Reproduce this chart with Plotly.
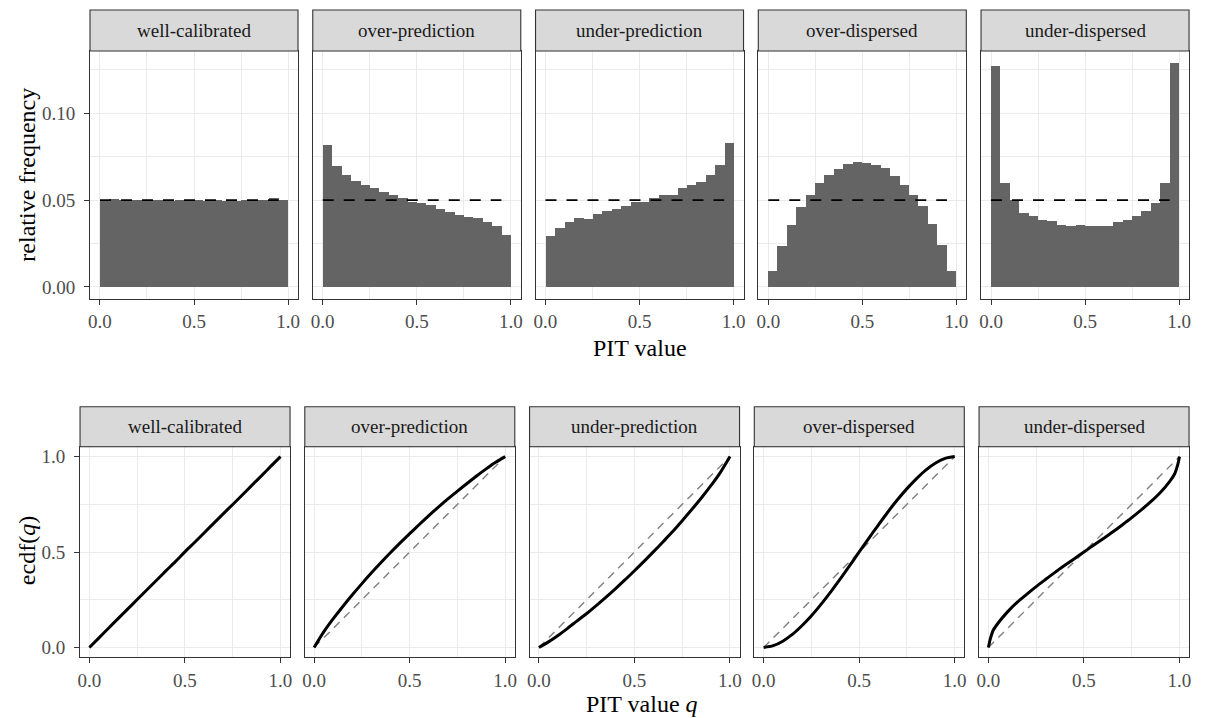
import plotly.graph_objects as go

# ---------------- data ----------------
panels = ["well-calibrated", "over-prediction", "under-prediction",
          "over-dispersed", "under-dispersed"]

bin_centers = [0.025, 0.075, 0.125, 0.175, 0.225, 0.275, 0.325, 0.375, 0.425, 0.475,
               0.525, 0.575, 0.625, 0.675, 0.725, 0.775, 0.825, 0.875, 0.925, 0.975]
bin_width = 0.05
expected_freq = 0.05
expected_x = [0.0, 0.95]

hist_well = [0.0502, 0.0505, 0.0503, 0.0499, 0.0501, 0.0498, 0.0500, 0.0497, 0.0499, 0.0501,
             0.0498, 0.0496, 0.0499, 0.0497, 0.0496, 0.0499, 0.0500, 0.0502, 0.0510, 0.0503]
hist_over_pred = [0.0817, 0.0698, 0.0646, 0.0612, 0.0589, 0.0567, 0.0544, 0.0527, 0.0510, 0.0487,
                  0.0481, 0.0470, 0.0447, 0.0430, 0.0413, 0.0401, 0.0395, 0.0373, 0.0350, 0.0298]
hist_under_pred = [0.0293, 0.0338, 0.0373, 0.0395, 0.0390, 0.0418, 0.0435, 0.0447, 0.0464, 0.0487,
                   0.0492, 0.0510, 0.0527, 0.0532, 0.0572, 0.0589, 0.0606, 0.0646, 0.0703, 0.0829]
hist_over_disp = [0.0093, 0.0236, 0.0356, 0.0458, 0.0527, 0.0601, 0.0646, 0.0681, 0.0709, 0.0721,
                  0.0715, 0.0703, 0.0686, 0.0641, 0.0589, 0.0527, 0.0464, 0.0361, 0.0241, 0.0093]
hist_under_disp = [0.1274, 0.0601, 0.0500, 0.0424, 0.0407, 0.0384, 0.0378, 0.0356, 0.0350, 0.0356,
                   0.0350, 0.0350, 0.0350, 0.0373, 0.0384, 0.0407, 0.0435, 0.0481, 0.0601, 0.1291]

ecdf_q = [0.00, 0.05, 0.10, 0.15, 0.20, 0.25, 0.30, 0.35, 0.40, 0.45, 0.50,
          0.55, 0.60, 0.65, 0.70, 0.75, 0.80, 0.85, 0.90, 0.95, 1.00]
ecdf_well = [0.0, 0.050, 0.101, 0.151, 0.201, 0.251, 0.301, 0.351, 0.401, 0.450, 0.501,
             0.550, 0.600, 0.650, 0.700, 0.749, 0.799, 0.849, 0.899, 0.950, 1.0]
ecdf_over_pred = [0.0, 0.0813, 0.1507, 0.2149, 0.2758, 0.3344, 0.3908, 0.4448, 0.4973, 0.5480, 0.5964,
                  0.6443, 0.6910, 0.7354, 0.7782, 0.8193, 0.8592, 0.8985, 0.9356, 0.9704, 1.0]
ecdf_under_pred = [0.0, 0.0292, 0.0628, 0.0999, 0.1393, 0.1781, 0.2197, 0.2630, 0.3075, 0.3537, 0.4021,
                   0.4511, 0.5019, 0.5543, 0.6073, 0.6642, 0.7229, 0.7832, 0.8475, 0.9175, 1.0]
ecdf_over_disp = [0.0, 0.0093, 0.0327, 0.0682, 0.1138, 0.1662, 0.2260, 0.2903, 0.3581, 0.4286, 0.5004,
                  0.5716, 0.6415, 0.7098, 0.7736, 0.8322, 0.8847, 0.9308, 0.9667, 0.9907, 1.0]
ecdf_q_ud = [0.00, 0.01, 0.025, 0.05, 0.10, 0.15, 0.20, 0.25, 0.30, 0.35, 0.40, 0.45, 0.50,
             0.55, 0.60, 0.65, 0.70, 0.75, 0.80, 0.85, 0.90, 0.95, 0.975, 0.99, 1.00]
ecdf_under_disp = [0.0, 0.045, 0.090, 0.1267, 0.1865, 0.2363, 0.2785, 0.3189, 0.3571, 0.3947, 0.4302,
                   0.4650, 0.5004, 0.5352, 0.5700, 0.6049, 0.6420, 0.6802, 0.7207, 0.7639, 0.8118,
                   0.8716, 0.910, 0.955, 1.0]

hist_data = [hist_well, hist_over_pred, hist_under_pred, hist_over_disp, hist_under_disp]
ecdf_x = [ecdf_q, ecdf_q, ecdf_q, ecdf_q, ecdf_q_ud]
ecdf_y = [ecdf_well, ecdf_over_pred, ecdf_under_pred, ecdf_over_disp, ecdf_under_disp]
diag = [0.0, 1.0]

x_ticks = [0.0, 0.5, 1.0]
top_y_ticks = [0.0, 0.05, 0.10]
bot_y_ticks = [0.0, 0.5, 1.0]

# ---------------- layout geometry ----------------
W, H = 1206, 718
FONT = "Liberation Serif"
BORDER = "#333333"
GRID = "#EBEBEB"

top_lefts = [88.3 + i * 223.5 for i in range(5)]
top_w = 208.7
top_strip = (10.0, 51.0)
top_plot = (51.0, 299.0)

bot_lefts = [78.3 + i * 225.5 for i in range(5)]
bot_w = 210.7
bot_strip = (407.3, 447.3)
bot_plot = (447.3, 658.3)


def xdom(left, width):
    return [left / W, (left + width) / W]


def ydom(top, bottom):
    return [1 - bottom / H, 1 - top / H]


def axis_common(minor_dtick):
    return dict(
        showline=True, linecolor=BORDER, linewidth=1.1, mirror=True,
        ticks="outside", ticklen=5, tickwidth=1.1, tickcolor=BORDER,
        showgrid=True, gridcolor=GRID, gridwidth=1.1, zeroline=False,
        tickfont=dict(family=FONT, size=19, color="#4D4D4D"),
        minor=dict(dtick=minor_dtick, tick0=0, showgrid=True, gridcolor=GRID,
                   gridwidth=0.55, ticks=""),
        fixedrange=True,
    )


fig = go.Figure()
layout = dict(width=W, height=H, margin=dict(l=0, r=0, t=0, b=0),
              paper_bgcolor="white", plot_bgcolor="white", showlegend=False,
              shapes=[], annotations=[], bargap=0)

for i in range(5):
    # ---- top row: histograms ----
    n = i + 1
    xa, ya = f"x{n}", f"y{n}"
    fig.add_trace(go.Bar(x=bin_centers, y=hist_data[i], width=bin_width,
                         marker=dict(color="#646464", line=dict(width=0)),
                         xaxis=xa, yaxis=ya, hoverinfo="skip"))
    fig.add_trace(go.Scatter(x=expected_x, y=[expected_freq, expected_freq], mode="lines",
                             line=dict(color="black", width=1.8, dash="11px,10px"),
                             xaxis=xa, yaxis=ya, hoverinfo="skip"))
    xd = axis_common(0.25)
    xd.update(domain=xdom(top_lefts[i], top_w), range=[-0.053, 1.053], anchor=ya,
              tickvals=x_ticks, ticktext=[f"{v:.1f}" for v in x_ticks], ticklabelstandoff=1)
    yd = axis_common(0.025)
    yd.update(domain=ydom(*top_plot), range=[-0.0067, 0.1358], anchor=xa,
              tickvals=top_y_ticks, ticktext=[f"{v:.2f}" for v in top_y_ticks],
              ticklabelstandoff=5)
    if i > 0:
        yd.update(showticklabels=False, ticks="")
    layout["xaxis" if n == 1 else f"xaxis{n}"] = xd
    layout["yaxis" if n == 1 else f"yaxis{n}"] = yd
    layout["shapes"].append(dict(type="rect", xref="paper", yref="paper",
                                 x0=top_lefts[i] / W, x1=(top_lefts[i] + top_w) / W,
                                 y0=1 - top_strip[1] / H, y1=1 - top_strip[0] / H,
                                 fillcolor="#D9D9D9", line=dict(color=BORDER, width=1.1)))
    layout["annotations"].append(dict(text=panels[i], xref="paper", yref="paper",
                                      x=(top_lefts[i] + top_w / 2) / W,
                                      y=1 - (top_strip[0] + top_strip[1]) / 2 / H,
                                      showarrow=False, xanchor="center", yanchor="middle",
                                      font=dict(family=FONT, size=19, color="#1A1A1A")))

    # ---- bottom row: ECDF ----
    m = i + 6
    xb, yb = f"x{m}", f"y{m}"
    fig.add_trace(go.Scatter(x=diag, y=diag, mode="lines",
                             line=dict(color="#7F7F7F", width=1.4, dash="8px,6px"),
                             xaxis=xb, yaxis=yb, hoverinfo="skip"))
    fig.add_trace(go.Scatter(x=ecdf_x[i], y=ecdf_y[i], mode="lines",
                             line=dict(color="black", width=3, shape="spline", smoothing=0.8),
                             xaxis=xb, yaxis=yb, hoverinfo="skip"))
    xd = axis_common(0.25)
    xd.update(domain=xdom(bot_lefts[i], bot_w), range=[-0.049, 1.05], anchor=yb,
              tickvals=x_ticks, ticktext=[f"{v:.1f}" for v in x_ticks], ticklabelstandoff=1)
    yd = axis_common(0.25)
    yd.update(domain=ydom(*bot_plot), range=[-0.052, 1.052], anchor=xb,
              tickvals=bot_y_ticks, ticktext=[f"{v:.1f}" for v in bot_y_ticks],
              ticklabelstandoff=5)
    if i > 0:
        yd.update(showticklabels=False, ticks="")
    layout[f"xaxis{m}"] = xd
    layout[f"yaxis{m}"] = yd
    layout["shapes"].append(dict(type="rect", xref="paper", yref="paper",
                                 x0=bot_lefts[i] / W, x1=(bot_lefts[i] + bot_w) / W,
                                 y0=1 - bot_strip[1] / H, y1=1 - bot_strip[0] / H,
                                 fillcolor="#D9D9D9", line=dict(color=BORDER, width=1.1)))
    layout["annotations"].append(dict(text=panels[i], xref="paper", yref="paper",
                                      x=(bot_lefts[i] + bot_w / 2) / W,
                                      y=1 - (bot_strip[0] + bot_strip[1]) / 2 / H,
                                      showarrow=False, xanchor="center", yanchor="middle",
                                      font=dict(family=FONT, size=19, color="#1A1A1A")))

title_font = dict(family=FONT, size=24, color="black")
layout["annotations"] += [
    dict(text="relative frequency", xref="paper", yref="paper", x=25 / W, y=1 - 175 / H,
         textangle=-90, showarrow=False, xanchor="center", yanchor="middle", font=title_font),
    dict(text="PIT value", xref="paper", yref="paper", x=640 / W, y=1 - 348 / H,
         showarrow=False, xanchor="center", yanchor="middle", font=title_font),
    dict(text="ecdf(<i>q</i>)", xref="paper", yref="paper", x=25 / W, y=1 - 551 / H,
         textangle=-90, showarrow=False, xanchor="center", yanchor="middle", font=title_font),
    dict(text="PIT value <i>q</i>", xref="paper", yref="paper", x=642 / W, y=1 - 705 / H,
         showarrow=False, xanchor="center", yanchor="middle", font=title_font),
]

fig.update_layout(**layout)
fig.write_html("out.html")
